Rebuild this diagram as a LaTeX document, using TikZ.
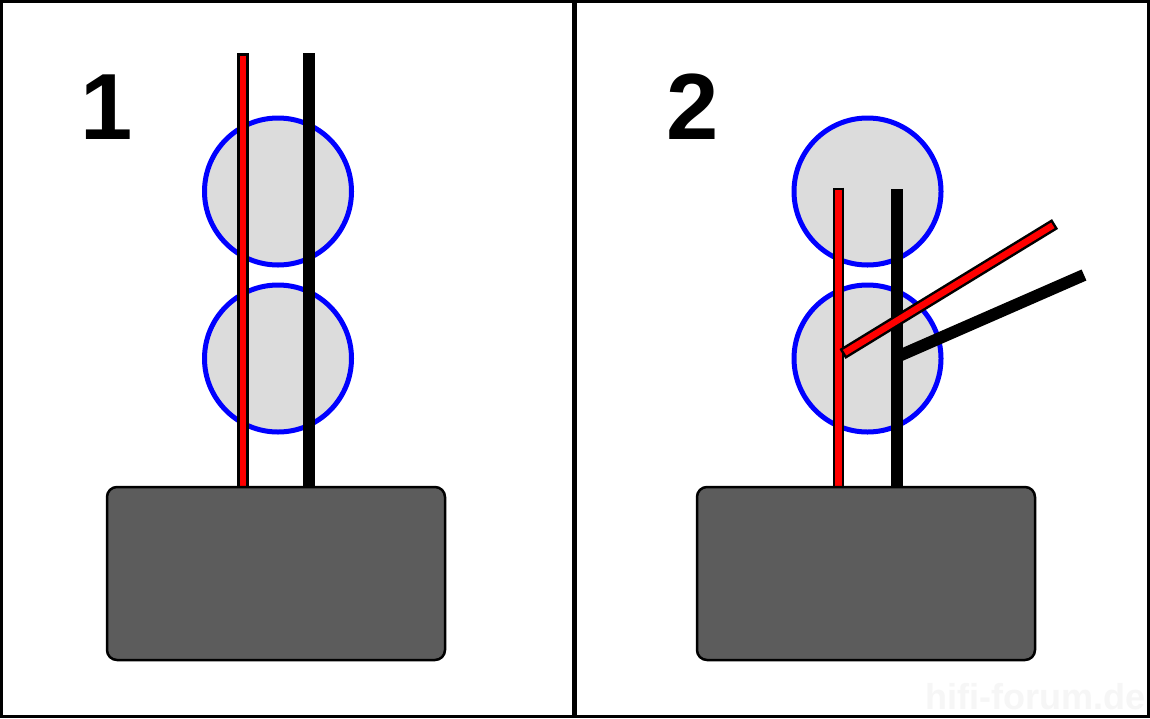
\documentclass[tikz,border=0pt]{standalone}
\usepackage{fontspec}
\setmainfont{Liberation Sans}
\definecolor{boxgray}{HTML}{5C5C5C}
\definecolor{diskgray}{HTML}{DCDCDC}
\definecolor{wmark}{HTML}{F6F6F6}
\tikzset{
  disk/.style={draw=blue, fill=diskgray, line width=5pt},
  base/.style={draw=black, fill=boxgray, line width=2.5pt, rounded corners=10pt},
  blackwire/.style={draw=black, line width=12pt},
  redout/.style={draw=black, line width=11.5pt},
  redin/.style={draw=red, line width=6.5pt, shorten <=2.5pt, shorten >=2.5pt},
  numlabel/.style={font=\fontsize{94}{94}\selectfont\bfseries, inner sep=0pt, anchor=base west},
}
\begin{document}
\begin{tikzpicture}[x=1pt,y=-1pt]
\useasboundingbox (0,0) rectangle (1150,718);
\fill[white] (0,0) rectangle (1150,718);
% watermark
\node[font=\fontsize{36}{36}\selectfont\bfseries, text=wmark, anchor=base east, inner sep=0pt] (wm) at (1146,709) {hifi-forum.de};
% frame and divider
\draw[line width=3pt] (1.5,1.5) rectangle (1148.5,716.5);
\coordinate (dt) at (574.5,0);
\coordinate (db) at (574.5,718);
\draw[line width=5pt] (dt) -- (db);
% labels
\node[numlabel] (n1) at (80,139) {1};
\node[numlabel] (n2) at (666,139) {2};
% ---- panel 1
\draw[disk] (278,191.5) circle (73.5);
\draw[disk] (278,358.5) circle (73.5);
\coordinate (b1t) at (309,53);
\coordinate (b1b) at (309,488);
\coordinate (r1t) at (243,53);
\coordinate (r1b) at (243,488);
\draw[blackwire] (b1t) -- (b1b);
\draw[redout] (r1t) -- (r1b);
\draw[redin] (r1t) -- (r1b);
\draw[base] (107,487) rectangle (445,660);
% ---- panel 2
\draw[disk] (867.5,191.5) circle (73.5);
\draw[disk] (867.5,358.5) circle (73.5);
\coordinate (b2t) at (896.5,189);
\coordinate (b2b) at (896.5,488);
\coordinate (b2s) at (896.5,357);
\coordinate (b2e) at (1084,275);
\coordinate (r2t) at (838.5,187.5);
\coordinate (r2b) at (838.5,488);
\coordinate (r2s) at (842.5,354);
\coordinate (r2e) at (1055,224);
\draw[blackwire] (b2t) -- (b2b);
\draw[blackwire] (b2s) -- (b2e);
\draw[redout] (r2t) -- (r2b);
\draw[redin] (r2t) -- (r2b);
\draw[redout] (r2s) -- (r2e);
\draw[redin] (r2s) -- (r2e);
\draw[base] (697,487) rectangle (1035,660);
\end{tikzpicture}
\end{document}
